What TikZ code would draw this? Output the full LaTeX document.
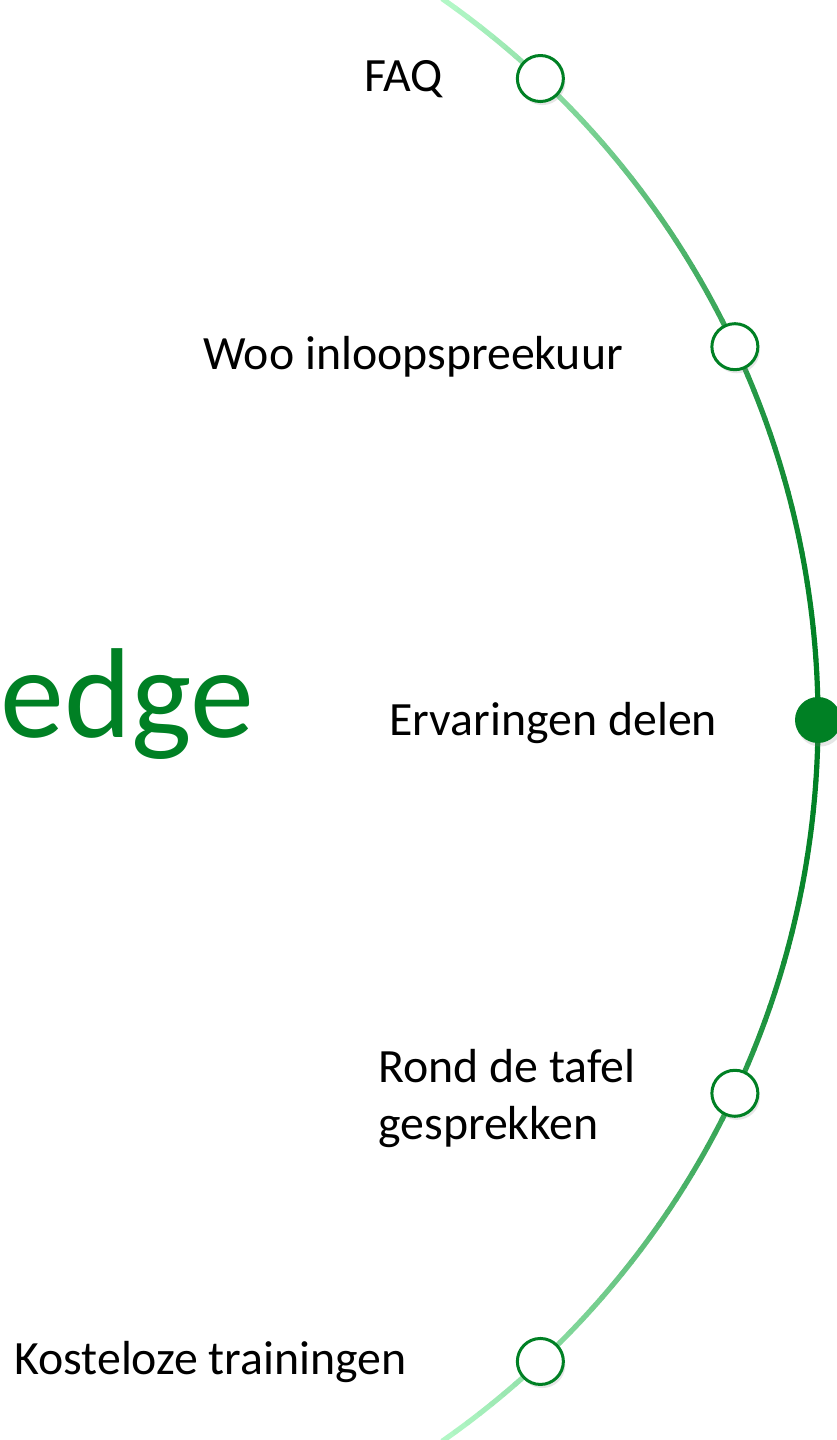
\documentclass[tikz,border=0pt]{standalone}
\usepackage{fontspec}
\setmainfont{Carlito}
\usepackage{tikz}
\usetikzlibrary{positioning}
\usetikzlibrary{shadows}

\definecolor{kgreen}{RGB}{0,128,36}
\definecolor{klight}{RGB}{180,248,200}

\begin{document}
\begin{tikzpicture}[x=0.5pt,y=0.5pt,
	label/.style={anchor=base west,inner sep=0pt,font=\fontsize{23.9}{28.5}\selectfont,align=left},
	ring/.style={circle,draw=kgreen,line width=1.5pt,fill=white,minimum size=23pt,inner sep=0pt,
		drop shadow={shadow xshift=1pt,shadow yshift=-1.8pt,opacity=0.2}},
	hub/.style={circle,fill=kgreen,minimum size=23pt,inner sep=0pt,
		drop shadow={shadow xshift=1pt,shadow yshift=-1.8pt,opacity=0.2}}]

	\useasboundingbox (0,0) rectangle (836,1440);
	\coordinate (ctr) at (-62,720);

	%% Arc %%
	\foreach \a in {-55,-54,...,54} {
		\pgfmathsetmacro{\mixp}{100*(1-(abs(sin(\a+0.5))/sin(55))^2)}
		\draw [line width=2.6pt,line cap=round,color=kgreen!\mixp!klight] (ctr) ++(\a:880) arc [start angle=\a,end angle=\a+1,radius=880];
	}

	%% Points %%
	\path (ctr) ++(46.8:880) node [ring] (dotFaq) {};
	\path (ctr) ++(25.1:880) node [ring] (dotWoo) {};
	\path (ctr) ++(0:880) node [hub] (dotErv) {};
	\path (ctr) ++(-25.1:880) node [ring] (dotRond) {};
	\path (ctr) ++(-46.8:880) node [ring] (dotKost) {};

	%% Labels %%
	\node [label] (faq) at (364,1348) {FAQ};
	\node [label] (woo) at (203,1070) {Woo inloopspreekuur};
	\node [label] (erv) at (389,704) {Ervaringen delen};
	\node [label] (rond) at (378,300) {Rond de tafel\\gesprekken};
	\node [label] (kost) at (14,65) {Kosteloze trainingen};
	\node [anchor=base west,inner sep=0pt,text=kgreen,font=\fontsize{64}{76}\selectfont] (title) at (0,702) {edge};

\end{tikzpicture}
\end{document}
